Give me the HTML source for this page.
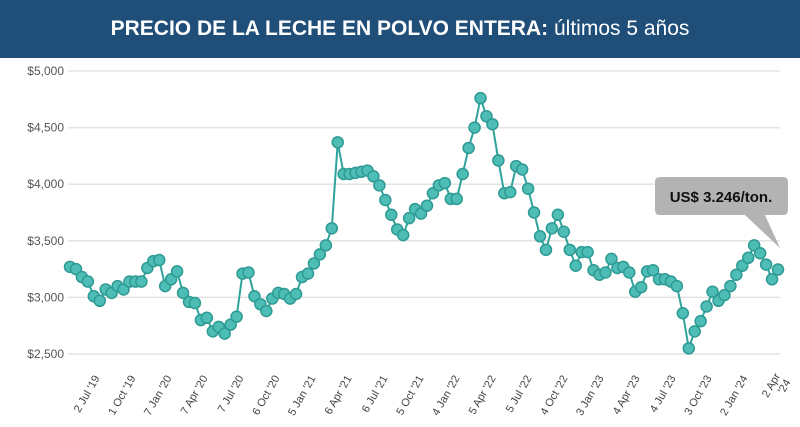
<!DOCTYPE html>
<html><head><meta charset="utf-8"><style>
body{margin:0;width:800px;height:427px;overflow:hidden;background:#fff;font-family:"Liberation Sans",sans-serif}
#hdr{position:absolute;left:0;top:0;width:800px;height:58px;background:#1f4e79;color:#fff;text-align:center;line-height:58px;font-size:21px}
</style></head><body>
<div id="hdr"><b>PRECIO DE LA LECHE EN POLVO ENTERA:</b> últimos 5 años</div>
<svg id="c" width="800" height="427" style="position:absolute;left:0;top:0"></svg>
<script>
const values=[3270,3250,3180,3140,3010,2970,3070,3040,3100,3070,3140,3140,3140,3260,3320,3330,3100,3160,3230,3040,2960,2950,2800,2820,2700,2740,2680,2760,2830,3210,3220,3010,2940,2880,2990,3040,3030,2990,3030,3180,3210,3300,3380,3460,3610,4370,4090,4090,4100,4110,4120,4070,3990,3860,3730,3600,3550,3700,3780,3740,3810,3920,3990,4010,3870,3870,4090,4320,4500,4760,4600,4530,4210,3920,3930,4160,4130,3960,3750,3540,3420,3610,3730,3580,3420,3280,3400,3400,3240,3200,3220,3340,3260,3270,3220,3050,3090,3230,3240,3160,3160,3140,3100,2860,2550,2700,2790,2920,3050,2970,3020,3100,3200,3280,3350,3460,3390,3290,3160,3246];
const yTicks=[2500,3000,3500,4000,4500,5000];
const yTickLabels=["$2,500","$3,000","$3,500","$4,000","$4,500","$5,000"];
const xTickLabels=["2 Jul '19","1 Oct '19","7 Jan '20","7 Apr '20","7 Jul '20","6 Oct '20","5 Jan '21","6 Apr '21","6 Jul '21","5 Oct '21","4 Jan '22","5 Apr '22","5 Jul '22","4 Oct '22","3 Jan '23","4 Apr '23","4 Jul '23","3 Oct '23","2 Jan '24","2 Apr|'24"];
const NS="http://www.w3.org/2000/svg",svg=document.getElementById('c');
const y=v=>354-(v-2500)*(283/2500);
const x=i=>70+i*(708/(values.length-1));
function mk(t,a){const e=document.createElementNS(NS,t);for(const k in a)e.setAttribute(k,a[k]);svg.appendChild(e);return e;}
yTicks.forEach((v,i)=>{
 const g=mk('line',{x1:68,x2:780,y1:y(v),y2:y(v),stroke:'#e3e3e3','stroke-width':1.5});
 
 
 const t=mk('text',{x:64,y:y(v)+4,'text-anchor':'end','font-size':12,fill:'#555'});
 t.textContent=yTickLabels[i];
 
 
});
xTickLabels.forEach((s,i)=>{
 const px=100+i*36, py=378;
 const t=mk('text',{x:px,y:py,'text-anchor':'end','font-size':11,fill:'#444',transform:`rotate(-60 ${px} ${py})`});
 const parts=s.split('|');
 if(parts.length>1){
  parts.forEach((p,k)=>{const ts=document.createElementNS(NS,'tspan');ts.setAttribute('x',px);ts.setAttribute('dy',k?12:-4);ts.textContent=p;t.appendChild(ts);});
 } else t.textContent=s;
 
 
});
const line=mk('polyline',{points:values.map((v,i)=>x(i)+','+y(v)).join(' '),fill:'none',stroke:'#2fa39c','stroke-width':2});


values.forEach((v,i)=>{
 const c=mk('circle',{cx:x(i),cy:y(v),r:5.5,fill:'#4dbdb5',stroke:'#2e9a94','stroke-width':1.5});
 
 
});
const cal=mk('path',{d:'M660,177 H783 Q788,177 788,182 V210 Q788,215 783,215 H765 L780,248 L745,215 H660 Q655,215 655,210 V182 Q655,177 660,177 Z',fill:'#b3b3b3'});


const ct=mk('text',{x:721,y:202,'text-anchor':'middle','font-size':15,'font-weight':'bold',fill:'#111'});
ct.textContent='US$ 3.246/ton.';


</script>
</body></html>
